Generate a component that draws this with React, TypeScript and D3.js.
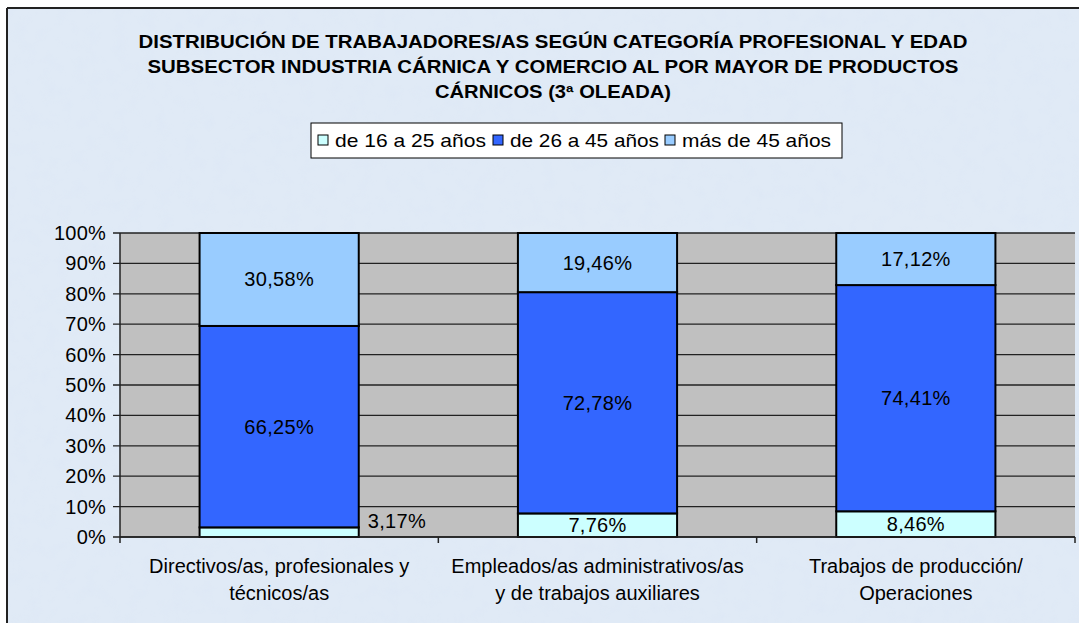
import * as d3 from "d3";

const categories = [
  ["Directivos/as, profesionales y", "técnicos/as"],
  ["Empleados/as administrativos/as", "y de trabajos auxiliares"],
  ["Trabajos de producción/", "Operaciones"],
];
const series = ["de 16 a 25 años", "de 26 a 45 años", "más de 45 años"];
const young = [3.17, 7.76, 8.46];
const middle = [66.25, 72.78, 74.41];
const older = [30.58, 19.46, 17.12];
const yTicks = [0, 10, 20, 30, 40, 50, 60, 70, 80, 90, 100];
const titleLines = [
  "DISTRIBUCIÓN DE TRABAJADORES/AS SEGÚN CATEGORÍA PROFESIONAL Y EDAD",
  "SUBSECTOR INDUSTRIA CÁRNICA Y COMERCIO AL POR MAYOR DE PRODUCTOS",
  "CÁRNICOS (3ª OLEADA)",
];

const COLORS = ["#ccffff", "#3366ff", "#99ccff"];
const FONT = "Liberation Sans, Arial, sans-serif";
const W = 1079;
const H = 623;
const PLOT = { left: 120, right: 1075, top: 233, bottom: 537 };

const fmt = (v: number) => v.toFixed(2).replace(".", ",") + "%";

export default function App() {
  const x = d3
    .scaleBand<number>()
    .domain(d3.range(categories.length))
    .range([PLOT.left, PLOT.right])
    .paddingInner(0)
    .paddingOuter(0);
  const y = d3.scaleLinear().domain([0, 100]).range([PLOT.bottom, PLOT.top]);

  const stackData = categories.map((_, i) => ({ a: young[i], b: middle[i], c: older[i] }));
  const stacked = d3.stack<{ a: number; b: number; c: number }>().keys(["a", "b", "c"])(stackData);

  const bw = x.bandwidth() * 0.5;
  const titleWidths = [829, 811, 236];
  const legendX = [318, 493, 665];
  const legendW = [151, 149, 149];

  return (
    <svg
      width={W}
      height={H}
      style={{ position: "absolute", left: 0, top: 0, fontFamily: FONT }}
    >
      <defs>
        <filter id="tex" x="0" y="0" width="100%" height="100%">
          <feTurbulence type="fractalNoise" baseFrequency="0.07" numOctaves={3} seed={4} result="n" />
          <feColorMatrix
            in="n"
            type="matrix"
            values="0 0 0 0 0.72  0 0 0 0 0.80  0 0 0 0 0.92  0 0 0 -2 1.05"
          />
        </filter>
      </defs>
      <rect x={0} y={0} width={W} height={H} fill="#ffffff" />
      <rect x={7} y={8} width={W} height={H} fill="#e0eaf6" />
      <rect x={7} y={8} width={W} height={H} filter="url(#tex)" opacity={0.55} />
      <line x1={7} y1={8} x2={W} y2={8} stroke="#222" strokeWidth={2} />
      <line x1={7} y1={8} x2={7} y2={H} stroke="#222" strokeWidth={2} />

      {titleLines.map((t, i) => (
        <text
          key={i}
          x={553}
          y={48 + i * 25}
          textAnchor="middle"
          fontSize={18}
          fontWeight="bold"
          textLength={titleWidths[i]}
          lengthAdjust="spacingAndGlyphs"
          fill="#000"
        >
          {t}
        </text>
      ))}

      {/* legend */}
      <rect x={311} y={123} width={531} height={35} fill="#fff" stroke="#000" strokeWidth={1} />
      {series.map((s, i) => (
        <g key={s}>
          <rect x={legendX[i]} y={135} width={10} height={10} fill={COLORS[i]} stroke="#000" strokeWidth={1} />
          <text
            x={legendX[i] + 17}
            y={147}
            fontSize={19}
            textLength={legendW[i]}
            lengthAdjust="spacingAndGlyphs"
          >
            {s}
          </text>
        </g>
      ))}

      {/* plot area */}
      <rect
        x={PLOT.left}
        y={PLOT.top}
        width={PLOT.right - PLOT.left}
        height={PLOT.bottom - PLOT.top}
        fill="#c0c0c0"
      />
      {yTicks.map((t) => (
        <line
          key={t}
          x1={PLOT.left - 7}
          x2={PLOT.right}
          y1={y(t)}
          y2={y(t)}
          stroke="#222"
          strokeWidth={1.3}
        />
      ))}

      {stacked.map((layer, li) =>
        layer.map((d, ci) => {
          const x0 = (x(ci) ?? 0) + (x.bandwidth() - bw) / 2;
          return (
            <rect
              key={`${li}-${ci}`}
              x={x0}
              y={y(d[1])}
              width={bw}
              height={y(d[0]) - y(d[1])}
              fill={COLORS[li]}
              stroke="#000"
              strokeWidth={2}
            />
          );
        })
      )}

      {stacked.map((layer, li) =>
        layer.map((d, ci) => {
          const cx = (x(ci) ?? 0) + x.bandwidth() / 2;
          const v = d[1] - d[0];
          const outside = li === 0 && v < 5;
          const lx = outside ? cx + bw / 2 + 9 : cx;
          const ly = outside ? y(d[1]) + 1 : (y(d[0]) + y(d[1])) / 2 + 7;
          return (
            <text
              key={`t${li}-${ci}`}
              x={lx}
              y={ly}
              fontSize={20}
              textAnchor={outside ? "start" : "middle"}
              letterSpacing={0.3}
            >
              {fmt(v)}
            </text>
          );
        })
      )}

      {/* axes */}
      <line x1={PLOT.left} x2={PLOT.left} y1={PLOT.top} y2={PLOT.bottom} stroke="#222" strokeWidth={1.5} />
      <line x1={PLOT.left} x2={PLOT.right} y1={PLOT.bottom} y2={PLOT.bottom} stroke="#222" strokeWidth={1.5} />
      {d3.range(categories.length + 1).map((i) => {
        const tx = i < categories.length ? x(i) ?? 0 : PLOT.right;
        return <line key={i} x1={tx} x2={tx} y1={PLOT.bottom} y2={PLOT.bottom + 6} stroke="#222" strokeWidth={1.5} />;
      })}
      {yTicks.map((t) => (
        <text key={t} x={106} y={y(t) + 7} fontSize={20} textAnchor="end" letterSpacing={0.2}>
          {t}%
        </text>
      ))}
      {categories.map((lines, i) => (
        <text key={i} x={(x(i) ?? 0) + x.bandwidth() / 2} fontSize={20} textAnchor="middle">
          {lines.map((l, j) => (
            <tspan key={j} x={(x(i) ?? 0) + x.bandwidth() / 2} y={573 + j * 27}>
              {l}
            </tspan>
          ))}
        </text>
      ))}
    </svg>
  );
}
